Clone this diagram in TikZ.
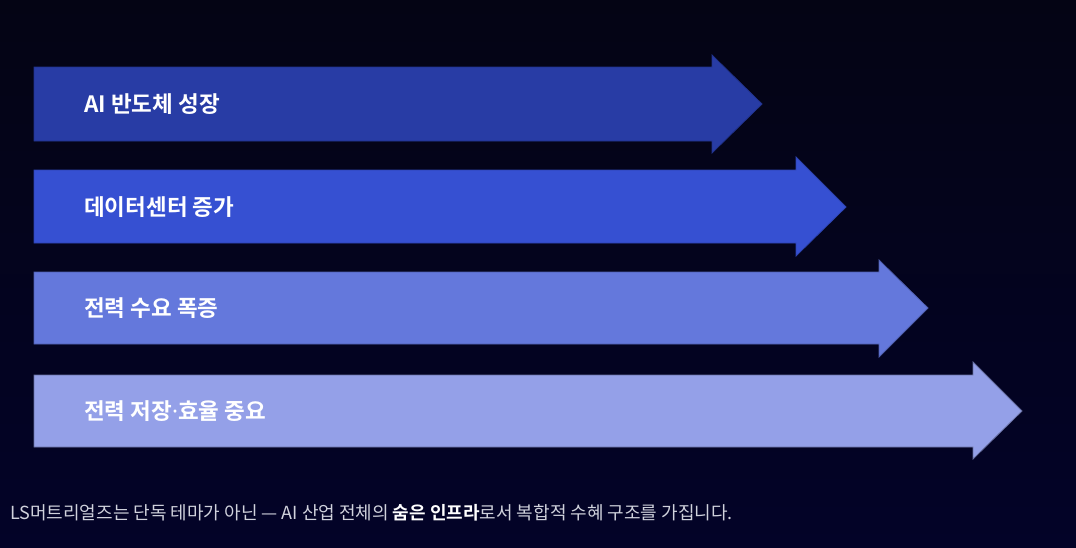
\documentclass[tikz,border=0pt]{standalone}
\usepackage{fontspec}
\setmainfont{Noto Sans CJK KR}
\newfontfamily\krb{Noto Sans CJK KR Bold}
\newfontfamily\dotfont{Noto Sans}
\usetikzlibrary{calc}
\definecolor{bgtop}{RGB}{4,4,20}
\definecolor{bgbot}{RGB}{3,3,40}
\definecolor{aone}{RGB}{40,60,165}
\definecolor{atwo}{RGB}{54,80,210}
\definecolor{athree}{RGB}{100,120,220}
\definecolor{afour}{RGB}{148,160,232}
\definecolor{capgray}{RGB}{208,210,220}
\begin{document}
\begin{tikzpicture}[x=1pt,y=-1pt,
  arrowbody/.style={line width=0.8pt, line join=miter},
  label/.style={anchor=west, text=white, font=\krb\fontsize{22.5}{26}\selectfont, inner sep=0pt},
  caption/.style={anchor=west, text=capgray, font=\fontsize{18}{21}\selectfont, inner sep=0pt}]
\shade[top color=bgtop, bottom color=bgbot] (0,0) rectangle (1076,547);
\useasboundingbox (0,0) rectangle (1076,547);
% arrow 1
\filldraw[arrowbody, fill=aone, draw=aone!85!black] (34,67) -- (712,67) -- (712,55) -- (762,104) -- (712,153) -- (712,141) -- (34,141) -- cycle;
\node[label] (t1) at (84,104) {AI 반도체 성장};
% arrow 2
\filldraw[arrowbody, fill=atwo, draw=atwo!85!black] (34,170) -- (796,170) -- (796,157) -- (846,207) -- (796,256) -- (796,243) -- (34,243) -- cycle;
\node[label] (t2) at (84,207) {데이터센터 증가};
% arrow 3
\filldraw[arrowbody, fill=athree, draw=athree!80!black] (34,272) -- (879,272) -- (879,260) -- (928,308) -- (879,357) -- (879,344) -- (34,344) -- cycle;
\node[label] (t3) at (84,308) {전력 수요 폭증};
% arrow 4
\filldraw[arrowbody, fill=afour, draw=afour!70!black] (34,375) -- (973,375) -- (973,362) -- (1022,411) -- (973,459) -- (973,447) -- (34,447) -- cycle;
\node[label] (t4) at (84,411) {전력 저장{\dotfont\bfseries ·}효율 중요};
% caption
\node[caption] (cap) at (10,513) {LS머트리얼즈는 단독 테마가 아닌 — AI 산업 전체의 {\krb\color{white}숨은 인프라}로서 복합적 수혜 구조를 가집니다.};
\end{tikzpicture}
\end{document}
